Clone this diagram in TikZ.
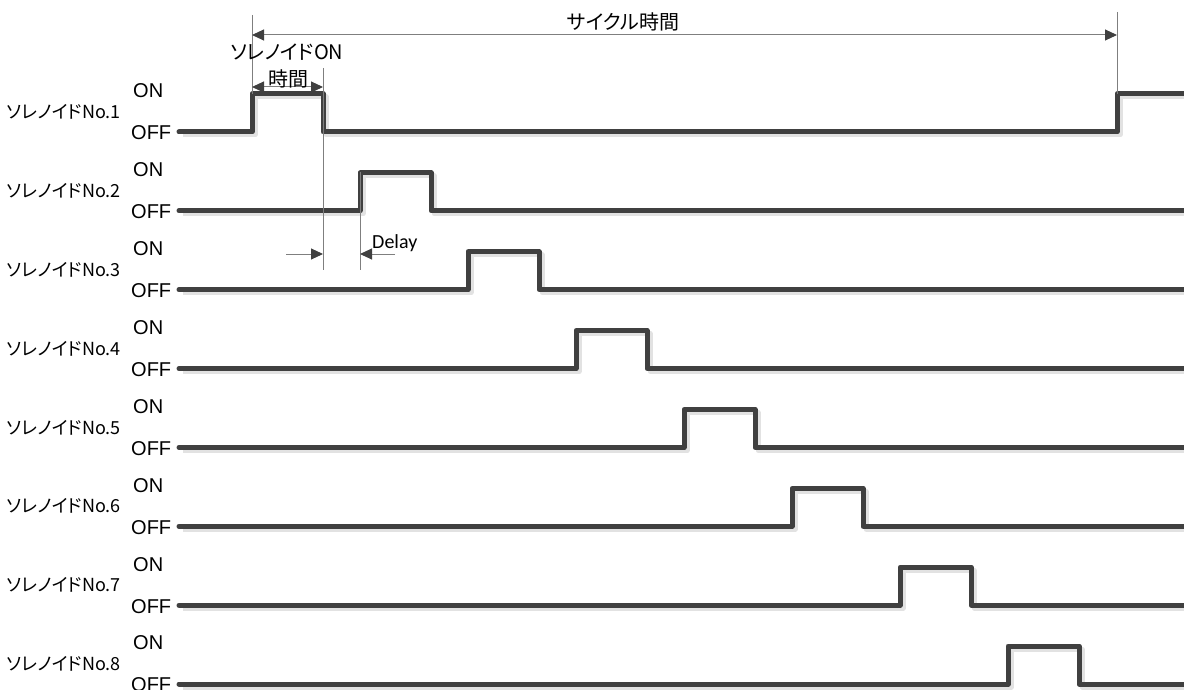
\documentclass[tikz,border=0pt]{standalone}
\usepackage{fontspec}
\setmainfont{Noto Sans CJK JP}[RawFeature={+palt}]
\newfontfamily\latf{Liberation Sans}
\newfontfamily\calf{Carlito}
\usetikzlibrary{arrows.meta}
\definecolor{wavec}{HTML}{404040}
\definecolor{shadc}{HTML}{E2E2E2}
\definecolor{dimc}{HTML}{7F7F7F}
\tikzset{
  wave/.style={draw=wavec,line width=5pt,line join=round,line cap=round},
  waveshadow/.style={draw=shadc,line width=5pt,line join=round},
  dimline/.style={draw=dimc,line width=1pt},
  dimarrow/.style={draw=dimc,line width=1pt,-{Triangle[length=12pt,width=11pt,fill=wavec,color=wavec]}},
  dimarrows/.style={draw=dimc,line width=1pt,{Triangle[length=12pt,width=11pt,fill=wavec,color=wavec]}-{Triangle[length=12pt,width=11pt,fill=wavec,color=wavec]}},
  rowlabel/.style={font=\fontsize{18}{20}\selectfont,inner sep=0pt,anchor=east},
  levellabel/.style={font=\latf\fontsize{20}{22}\selectfont,inner sep=0pt,anchor=west},
  jplabel/.style={font=\fontsize{20}{22}\selectfont,inner sep=0pt},
  delaylabel/.style={font=\calf\fontsize{20}{22}\selectfont,inner sep=0pt,anchor=west}
}
\begin{document}
\begin{tikzpicture}[x=1pt,y=-1pt]
\useasboundingbox (0,0) rectangle (1184,690);
\foreach \i in {1,...,8}{
  \pgfmathsetmacro\yoff{132+78.86*(\i-1)}
  \pgfmathsetmacro\yon{\yoff-38}
  \pgfmathsetmacro\xa{252+108*(\i-1)}
  \pgfmathsetmacro\xb{\xa+71}
  \coordinate (r\i a) at (\xa,\yoff);
  \coordinate (r\i b) at (\xb,\yoff);
  \ifnum\i=1
    \draw[waveshadow] (183,\yoff+3) -- (\xa+3,\yoff+3) -- (\xa+3,\yon+3) -- (\xb+3,\yon+3) -- (\xb+3,\yoff+3) -- (1120,\yoff+3) -- (1120,\yon+3) -- (1187,\yon+3);
    \draw[wave] (179,\yoff) -- (\xa,\yoff) -- (\xa,\yon) -- (\xb,\yon) -- (\xb,\yoff) -- (1117,\yoff) -- (1117,\yon) -- (1190,\yon);
  \else
    \draw[waveshadow] (183,\yoff+3) -- (\xa+3,\yoff+3) -- (\xa+3,\yon+3) -- (\xb+3,\yon+3) -- (\xb+3,\yoff+3) -- (1187,\yoff+3);
    \draw[wave] (179,\yoff) -- (\xa,\yoff) -- (\xa,\yon) -- (\xb,\yon) -- (\xb,\yoff) -- (1190,\yoff);
  \fi
  \node[rowlabel] (lab\i) at (121,\yoff-20) {ソレノイドNo.\i};
  \node[levellabel] (on\i) at (133,\yon-3) {ON};
  \node[levellabel] (off\i) at (131,\yoff+1) {OFF};
}
% dimension coordinates
\coordinate (c1top) at (252,15);
\coordinate (c1bot) at (252,94);
\coordinate (c2top) at (1117,12);
\coordinate (c2bot) at (1117,94);
\coordinate (s1top) at (323,68);
\coordinate (s1bot) at (323,270);
\coordinate (s2top) at (360,172);
\coordinate (s2bot) at (360,270);
\draw[dimline] (c1top) -- (c1bot);
\draw[dimline] (c2top) -- (c2bot);
\draw[dimline] (s1top) -- (s1bot);
\draw[dimline] (s2top) -- (s2bot);
% cycle time
\coordinate (cyA) at (252,35);
\coordinate (cyB) at (1117,35);
\draw[dimarrows] (cyA) -- (cyB);
\node[jplabel] (cycle) at (623,22) {サイクル時間};
% solenoid ON time
\node[jplabel] (sonA) at (287,52) {ソレノイドON};
\coordinate (onA) at (252,87);
\coordinate (onB) at (323,87);
\draw[dimarrows] (onA) -- (onB);
\node[jplabel] (sonB) at (288,79) {時間};
% delay
\coordinate (dlA) at (286,254);
\coordinate (dlAe) at (323,254);
\coordinate (dlB) at (395,254);
\coordinate (dlBe) at (360,254);
\draw[dimarrow] (dlA) -- (dlAe);
\draw[dimarrow] (dlB) -- (dlBe);
\node[delaylabel] (delay) at (372,243) {Delay};
\end{tikzpicture}
\end{document}
